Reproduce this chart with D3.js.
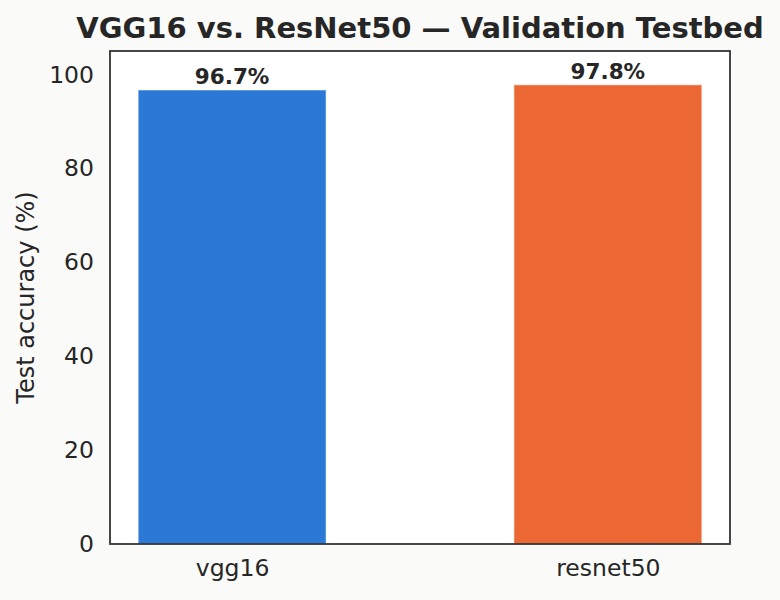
<!DOCTYPE html>
<html><head><meta charset="utf-8">
<script src="https://cdn.jsdelivr.net/npm/d3@7"></script>
<style>
html,body{margin:0;padding:0;background:#fafaf8;}
svg{display:block;font-family:"DejaVu Sans",sans-serif;}
</style></head>
<body><svg id="c" width="780" height="600"></svg>
<script>
const categories = ["vgg16", "resnet50"];
const accuracy = [96.7, 97.8];
const barColors = ["#2a79d6", "#eb6834"];
const yTicks = [0, 20, 40, 60, 80, 100];
const title = "VGG16 vs. ResNet50 \u2014 Validation Testbed";
const yLabel = "Test accuracy (%)";

const svg = d3.select("#c");
const W = 780, H = 600;
const m = {left: 110, right: 50, top: 51, bottom: 56};
const pw = W - m.left - m.right, ph = H - m.top - m.bottom;

const x = d3.scaleLinear().domain([-0.325, categories.length - 1 + 0.325]).range([m.left, m.left + pw]);
const y = d3.scaleLinear().domain([0, 105]).range([m.top + ph, m.top]);
const barW = 0.5;

svg.append("rect").attr("x", m.left).attr("y", m.top).attr("width", pw).attr("height", ph).attr("fill", "#ffffff");

svg.selectAll("rect.bar").data(categories).enter().append("rect")
  .attr("class", "bar")
  .attr("x", (d, i) => x(i - barW / 2))
  .attr("width", (d, i) => x(i + barW / 2) - x(i - barW / 2))
  .attr("y", (d, i) => y(accuracy[i]))
  .attr("height", (d, i) => y(0) - y(accuracy[i]))
  .attr("fill", (d, i) => barColors[i])
  .attr("stroke", "#ffffff").attr("stroke-opacity", 0.35).attr("stroke-width", 1.5);

svg.selectAll("text.val").data(categories).enter().append("text")
  .attr("class", "val")
  .attr("x", (d, i) => x(i))
  .attr("y", (d, i) => y(accuracy[i]) - 6)
  .attr("text-anchor", "middle")
  .attr("font-size", "21.5px").attr("font-weight", "bold").attr("fill", "#262626")
  .text((d, i) => accuracy[i].toFixed(1) + "%");

// y axis
const yAxis = d3.axisLeft(y).tickValues(yTicks).tickSize(0).tickPadding(16);
const gy = svg.append("g").attr("transform", `translate(${m.left},0)`).call(yAxis);
gy.select(".domain").remove();
gy.selectAll("text").attr("font-size", "23.5px").attr("fill", "#262626").attr("font-family", "DejaVu Sans");

// x axis
const xAxis = d3.axisBottom(x).tickValues(categories.map((d, i) => i)).tickFormat(i => categories[i]).tickSize(0).tickPadding(15);
const gx = svg.append("g").attr("transform", `translate(0,${m.top + ph})`).call(xAxis);
gx.select(".domain").remove();
gx.selectAll("text").attr("font-size", "23.5px").attr("fill", "#262626").attr("font-family", "DejaVu Sans");

// frame
svg.append("rect").attr("x", m.left).attr("y", m.top).attr("width", pw).attr("height", ph)
  .attr("fill", "none").attr("stroke", "#333333").attr("stroke-width", 1.8);

svg.append("text").attr("x", m.left + pw / 2).attr("y", 38)
  .attr("text-anchor", "middle").attr("font-size", "29px").attr("font-weight", "bold").attr("fill", "#262626")
  .text(title);

svg.append("text").attr("transform", `translate(34,${m.top + ph / 2}) rotate(-90)`)
  .attr("text-anchor", "middle").attr("font-size", "24px").attr("fill", "#262626")
  .text(yLabel);
</script></body></html>
